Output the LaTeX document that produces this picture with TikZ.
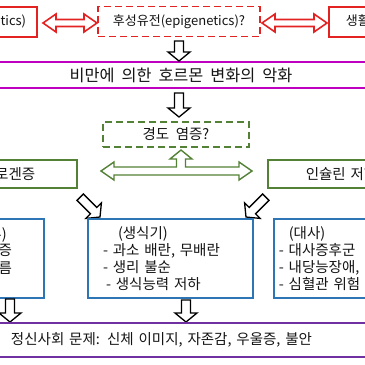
\documentclass[tikz,border=0pt]{standalone}
\usepackage{fontspec}
\setmainfont{Noto Sans CJK KR}[WordSpace=2]
\newfontfamily\magfont{Noto Sans CJK KR}[WordSpace=1.9]
\usetikzlibrary{calc}
\definecolor{cred}{HTML}{E32222}
\definecolor{cmag}{HTML}{C000C0}
\definecolor{cgreen}{HTML}{538135}
\definecolor{cblue}{HTML}{2E75B6}
\definecolor{cpurple}{HTML}{7030A0}
\definecolor{txt}{HTML}{141414}
% horizontal hollow double arrow: style, left tip, right tip, head length, half head, half shaft
\newcommand\hdblarrow[6]{\draw[#1] (#2) -- ($(#2)+(#4,-#5)$) -- ($(#2)+(#4,-#6)$) -- ($(#3)+(-#4,-#6)$) -- ($(#3)+(-#4,-#5)$) -- (#3) -- ($(#3)+(-#4,#5)$) -- ($(#3)+(-#4,#6)$) -- ($(#2)+(#4,#6)$) -- ($(#2)+(#4,#5)$) -- cycle;}
% hollow block arrow pointing down, tip at #2, rotated by #1, length #3
\newcommand\hollowarrow[3]{\begin{scope}[shift={(#2)},rotate=#1]\draw[blockarr] (0,0) -- (-11,-9) -- (-4.5,-9) -- (-4.5,-#3) -- (4.5,-#3) -- (4.5,-9) -- (11,-9) -- cycle;\end{scope}}
\begin{document}
\begin{tikzpicture}[x=1pt,y=-1pt,
  font=\fontsize{14.5}{17}\selectfont,
  every node/.style={text=txt},
  redbox/.style={draw=cred, line width=1.8pt, fill=white, minimum height=30pt, inner ysep=0pt, font=\fontsize{13}{16}\selectfont},
  reddash/.style={redbox, dash pattern=on 7pt off 4pt},
  redarr/.style={draw=cred, line width=1.6pt, fill=white, line join=miter},
  magbox/.style={draw=cmag, line width=2pt, fill=white, inner sep=0pt},
  gbox/.style={draw=cgreen, line width=1.6pt, fill=white, minimum height=28pt, inner ysep=0pt},
  gdash/.style={gbox, dash pattern=on 7pt off 4pt},
  garr/.style={draw=cgreen, line width=1.4pt, fill=white, line join=miter},
  bbox/.style={draw=cblue, line width=1.6pt, fill=white, minimum height=79pt, inner ysep=0pt, align=left},
  pbox/.style={draw=cpurple, line width=2pt, fill=white, inner ysep=0pt},
  blockarr/.style={draw=black, line width=1.3pt, fill=white, line join=miter}]
\useasboundingbox (0,0) rectangle (365,365);
\clip (0,0) rectangle (365,365);
\fill[white] (0,0) rectangle (365,365);

% top row
\node[redbox, anchor=east, text width=100pt, align=right, inner xsep=11pt] (gen) at (38,22) {유전(genetics)};
\node[reddash, minimum width=162pt, inner xsep=0pt] (epi) at (179,21.5) {후성유전(epigenetics)?};
\node[redbox, anchor=west, text width=100pt, align=left, inner xsep=17pt] (life) at (328,22) {생활습관(lifestyle)};
\hdblarrow{redarr}{43,23}{97,23}{13}{9}{3.5}
\hdblarrow{redarr}{262,23}{327,23}{13}{9}{3.5}

% hormone band
\node[magbox, minimum width=420pt, minimum height=26pt, font=\magfont\fontsize{16.3}{18}\selectfont] (horm) at (181,75) {비만에 의한 호르몬 변화의 악화};
\hollowarrow{0}{179,61}{20}
\hollowarrow{0}{179,117}{24}

% inflammation
\node[gdash, minimum width=146pt, minimum height=25pt] (infl) at (176,134.5) {경도 염증?};
\node[gbox, anchor=east, text width=120pt, align=right, inner xsep=42pt] (hyper) at (78,174) {고안드로겐증};
\node[gbox, anchor=west, text width=120pt, align=left, inner xsep=38pt] (ins) at (267,174) {인슐린 저항성};
\coordinate (gl) at (101,171);
\coordinate (gr) at (252,171);
\draw[garr] (gl) -- ($(gl)+(13,-9)$) -- ($(gl)+(13,-4)$) -- (176.5,167) -- (176.5,159) -- (170,159) -- (181,150) -- (192,159) -- (185.5,159) -- (185.5,167) -- ($(gr)+(-13,-4)$) -- ($(gr)+(-13,-9)$) -- (gr) -- ($(gr)+(-13,9)$) -- ($(gr)+(-13,4)$) -- ($(gl)+(13,4)$) -- ($(gl)+(13,9)$) -- cycle;

\hollowarrow{45}{100,217}{28}
\hollowarrow{-45}{246,217}{28}

% outcome boxes
\node[bbox, anchor=east, text width=77pt, inner xsep=5pt] (skin) at (45,258.5) {\hspace*{8pt}(피부)\\- 다모증\\- 여드름\\\mbox{}};
\node[bbox, text width=135pt, inner xsep=15pt] (repro) at (170.5,258.5) {\hspace*{15pt}(생식기)\\- 과소 배란, 무배란\\- 생리 불순\\\hspace*{3pt}- 생식능력 저하};
\node[bbox, anchor=west, text width=200pt, inner xsep=5pt] (meta) at (273,258.5) {\hspace*{10pt}(대사)\\- 대사증후군\\- 내당능장애, 당뇨\\- 심혈관 위험};

\hollowarrow{0}{10,322}{23}
\hollowarrow{0}{186,322}{22}

% psychosocial band
\node[pbox, anchor=west, text width=400pt, align=left, inner xsep=15pt, minimum height=34pt] (psy) at (-5,340) {정신사회 문제: 신체 이미지, 자존감, 우울증, 불안};
\end{tikzpicture}
\end{document}
